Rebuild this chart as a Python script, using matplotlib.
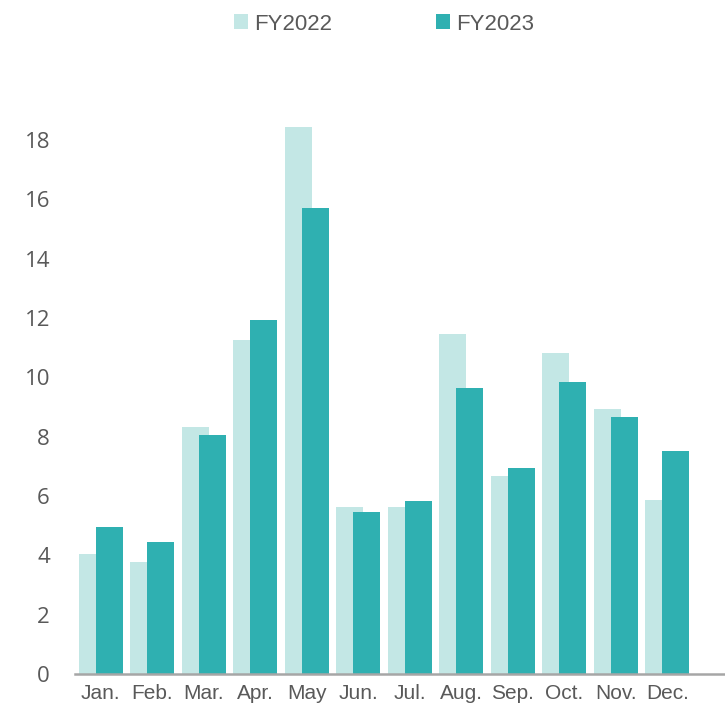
import matplotlib
matplotlib.use("Agg")
import matplotlib.pyplot as plt
import numpy as np
from matplotlib.patches import Patch

months = ["Jan.", "Feb.", "Mar.", "Apr.", "May", "Jun.", "Jul.", "Aug.", "Sep.", "Oct.", "Nov.", "Dec."]
fy2022 = [4.04, 3.77, 8.32, 11.26, 18.44, 5.63, 5.63, 11.46, 6.67, 10.82, 8.93, 5.86]
fy2023 = [4.95, 4.45, 8.05, 11.93, 15.71, 5.46, 5.83, 9.64, 6.94, 9.84, 8.66, 7.52]
yticks = [0, 2, 4, 6, 8, 10, 12, 14, 16, 18]

c22 = "#C3E7E5"
c23 = "#2FB0B1"
tc = "#595959"
plt.rcParams['font.family'] = ['Liberation Sans', 'DejaVu Sans']

W, H = 725, 708
fig = plt.figure(figsize=(W / 100, H / 100), dpi=100)
left, right, bottom, top = 75, 725, 674, 100
ax = fig.add_axes([left / W, (H - bottom) / H, (right - left) / W, (bottom - top) / H])

unit = 51.5
x = np.arange(len(months))
off = 8.5 / unit
bw = 27 / unit
ax.bar(x - off, fy2022, width=bw, color=c22, zorder=2, label="FY2022")
ax.bar(x + off, fy2023, width=bw, color=c23, zorder=3, label="FY2023")

ax.set_xlim(-0.5, -0.5 + (right - left) / unit)
ax.set_ylim(0, (bottom - top) / ((674 - 140) / 18))
ax.set_yticks(yticks)
ax.set_yticklabels([str(v) for v in yticks], fontsize=16, color=tc, family=['Open Sans', 'DejaVu Sans'])
ax.set_xticks(x)
ax.set_xticklabels(months, fontsize=15, color=tc)
ax.tick_params(axis="y", length=0, pad=18)
ax.tick_params(axis="x", length=0, pad=7)
for s in ["top", "right", "left"]:
    ax.spines[s].set_visible(False)
ax.spines["bottom"].set_color("#A6A6A6")
ax.spines["bottom"].set_linewidth(1.8)
ax.spines["bottom"].set_zorder(4)

handles = [Patch(facecolor=c22, label="FY2022"), Patch(facecolor=c23, label="FY2023")]
fig.legend(handles=handles, loc="center", bbox_to_anchor=(384 / W, 1 - 24 / H), ncol=2,
           frameon=False, fontsize=16, labelcolor=tc, handlelength=0.6, handleheight=0.65,
           handletextpad=0.28, columnspacing=4.7)

fig.savefig("out.png", dpi=100)
